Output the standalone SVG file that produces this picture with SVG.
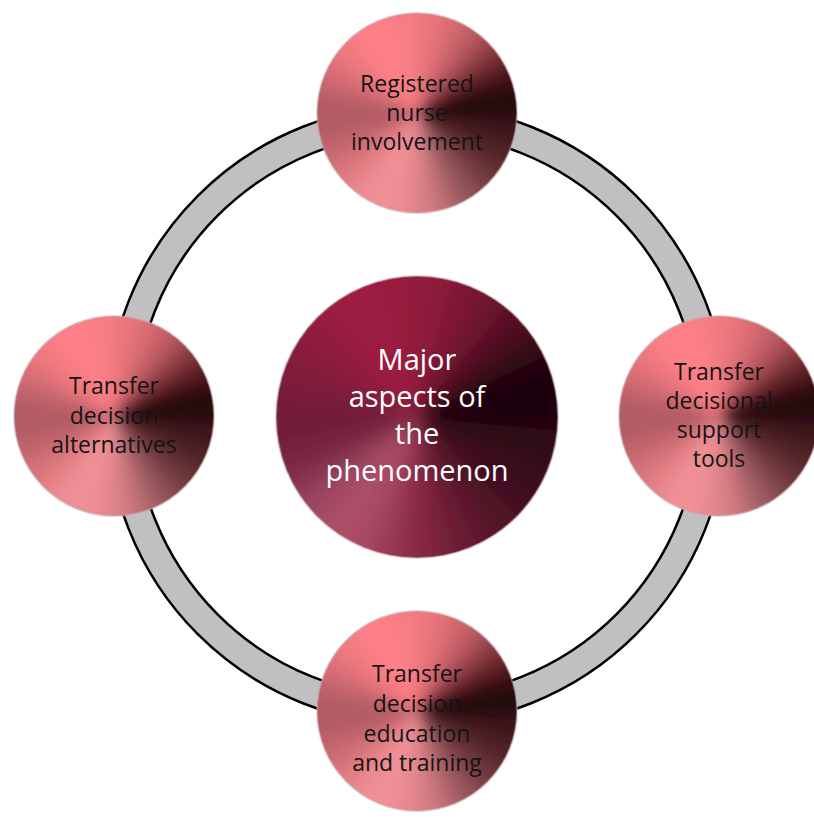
<svg xmlns="http://www.w3.org/2000/svg" xmlns:xlink="http://www.w3.org/1999/xlink" width="814" height="818" viewBox="0 0 814 818">
  <style>
    .wedges path { fill: currentColor; stroke: currentColor; stroke-width: 1.5; stroke-linejoin: round; }
    .ring-band { fill: none; stroke: #c0c0c0; stroke-width: 28; }
    .ring-edge { fill: none; stroke: #000; stroke-width: 2.5; }
    .rim { fill: none; stroke: #c8aeb1; stroke-opacity: 0.5; stroke-width: 2; }
    .lbl { font-family: "Open Sans", "Noto Sans", sans-serif; font-size: 23px; fill: #141414; text-anchor: middle; }
    .main { font-family: "Open Sans", "Noto Sans", sans-serif; font-size: 29px; fill: #ffffff; text-anchor: middle; }
  </style>
  <defs>
    <clipPath id="clip-sat"><circle r="100"/></clipPath>
    <clipPath id="clip-hub"><circle r="141"/></clipPath>
    <filter id="soft" filterUnits="userSpaceOnUse" x="-200" y="-200" width="400" height="400">
      <feGaussianBlur stdDeviation="7"/>
    </filter>
    <!-- angular "metallic" shading for the pink satellites -->
    <g id="sat-wedges" class="wedges">
      <path color="#3a1418" d="M0 0L120 0L115.9 31.1Z"/>
      <path color="#4a2024" d="M0 0L115.9 31.1L103.9 60Z"/>
      <path color="#643034" d="M0 0L103.9 60L84.9 84.9Z"/>
      <path color="#844a50" d="M0 0L84.9 84.9L60 103.9Z"/>
      <path color="#aa6268" d="M0 0L60 103.9L31.1 115.9Z"/>
      <path color="#d27c82" d="M0 0L31.1 115.9L0 120Z"/>
      <path color="#e88a90" d="M0 0L0 120L-31.1 115.9Z"/>
      <path color="#f29298" d="M0 0L-31.1 115.9L-60 103.9Z"/>
      <path color="#ea888e" d="M0 0L-60 103.9L-84.9 84.9Z"/>
      <path color="#da767c" d="M0 0L-84.9 84.9L-103.9 60Z"/>
      <path color="#c4666e" d="M0 0L-103.9 60L-115.9 31.1Z"/>
      <path color="#b05a62" d="M0 0L-115.9 31.1L-120 0Z"/>
      <path color="#b45c64" d="M0 0L-120 0L-115.9 -31.1Z"/>
      <path color="#d06a72" d="M0 0L-115.9 -31.1L-103.9 -60Z"/>
      <path color="#ec767e" d="M0 0L-103.9 -60L-84.9 -84.9Z"/>
      <path color="#fc7e86" d="M0 0L-84.9 -84.9L-60 -103.9Z"/>
      <path color="#ff8088" d="M0 0L-60 -103.9L-31.1 -115.9Z"/>
      <path color="#f87c84" d="M0 0L-31.1 -115.9L0 -120Z"/>
      <path color="#ec767e" d="M0 0L0 -120L31.1 -115.9Z"/>
      <path color="#d86a72" d="M0 0L31.1 -115.9L60 -103.9Z"/>
      <path color="#b85860" d="M0 0L60 -103.9L84.9 -84.9Z"/>
      <path color="#84383e" d="M0 0L84.9 -84.9L103.9 -60Z"/>
      <path color="#4a1418" d="M0 0L103.9 -60L115.9 -31.1Z"/>
      <path color="#1c0608" d="M0 0L115.9 -31.1L120 0Z"/>
    </g>
    <!-- angular shading for the crimson hub -->
    <g id="hub-wedges" class="wedges">
      <path color="#2c0812" d="M0 0L120 0L115.9 31.1Z"/>
      <path color="#340a1a" d="M0 0L115.9 31.1L103.9 60Z"/>
      <path color="#400e20" d="M0 0L103.9 60L84.9 84.9Z"/>
      <path color="#501426" d="M0 0L84.9 84.9L60 103.9Z"/>
      <path color="#661a30" d="M0 0L60 103.9L31.1 115.9Z"/>
      <path color="#7c223c" d="M0 0L31.1 115.9L0 120Z"/>
      <path color="#923050" d="M0 0L0 120L-31.1 115.9Z"/>
      <path color="#a84862" d="M0 0L-31.1 115.9L-60 103.9Z"/>
      <path color="#ae5068" d="M0 0L-60 103.9L-84.9 84.9Z"/>
      <path color="#9a4460" d="M0 0L-84.9 84.9L-103.9 60Z"/>
      <path color="#7c2a44" d="M0 0L-103.9 60L-115.9 31.1Z"/>
      <path color="#701e38" d="M0 0L-115.9 31.1L-120 0Z"/>
      <path color="#741e3a" d="M0 0L-120 0L-115.9 -31.1Z"/>
      <path color="#821c3a" d="M0 0L-115.9 -31.1L-103.9 -60Z"/>
      <path color="#8e1c3c" d="M0 0L-103.9 -60L-84.9 -84.9Z"/>
      <path color="#9a1e40" d="M0 0L-84.9 -84.9L-60 -103.9Z"/>
      <path color="#9e1e42" d="M0 0L-60 -103.9L-31.1 -115.9Z"/>
      <path color="#961c3e" d="M0 0L-31.1 -115.9L0 -120Z"/>
      <path color="#8c1a3a" d="M0 0L0 -120L31.1 -115.9Z"/>
      <path color="#7e1834" d="M0 0L31.1 -115.9L60 -103.9Z"/>
      <path color="#66122a" d="M0 0L60 -103.9L84.9 -84.9Z"/>
      <path color="#460a1e" d="M0 0L84.9 -84.9L103.9 -60Z"/>
      <path color="#22060e" d="M0 0L103.9 -60L115.9 -31.1Z"/>
      <path color="#160308" d="M0 0L115.9 -31.1L120 0Z"/>
    </g>
    <!-- blurred, step-smoothed versions used by the nodes -->
    <g id="sat-shade" filter="url(#soft)">
      <use href="#sat-wedges"/>
      <use href="#sat-wedges" transform="rotate(5)" opacity="0.5"/>
      <use href="#sat-wedges" transform="rotate(10)" opacity="0.333"/>
    </g>
    <g id="hub-shade" filter="url(#soft)">
      <use href="#hub-wedges"/>
      <use href="#hub-wedges" transform="rotate(5)" opacity="0.5"/>
      <use href="#hub-wedges" transform="rotate(10)" opacity="0.333"/>
    </g>
  </defs>

  <rect width="814" height="818" fill="#ffffff"/>

  <!-- ring linking the four satellites -->
  <g id="connectors">
    <circle class="ring-band" cx="417" cy="415" r="296"/>
    <circle class="ring-edge" cx="417" cy="415" r="310"/>
    <circle class="ring-edge" cx="417" cy="415" r="282"/>
  </g>

  <g id="node-hub" transform="translate(417,417)">
    <g clip-path="url(#clip-hub)">
      <use href="#hub-shade" transform="rotate(-5) scale(1.42)"/>
    </g>
    <circle class="rim" r="141"/>
    <text class="main" y="-47">Major</text>
    <text class="main" y="-10">aspects of</text>
    <text class="main" y="27">the</text>
    <text class="main" y="64">phenomenon</text>
  </g>

  <g id="node-top" transform="translate(417,113)">
    <g clip-path="url(#clip-sat)"><use href="#sat-shade" transform="rotate(-5)"/></g>
    <circle class="rim" r="100"/>
    <text class="lbl" y="-21">Registered</text>
    <text class="lbl" y="8">nurse</text>
    <text class="lbl" y="37">involvement</text>
  </g>

  <g id="node-left" transform="translate(114,416)">
    <g clip-path="url(#clip-sat)"><use href="#sat-shade" transform="rotate(-5)"/></g>
    <circle class="rim" r="100"/>
    <text class="lbl" y="-22">Transfer</text>
    <text class="lbl" y="8">decision</text>
    <text class="lbl" y="37">alternatives</text>
  </g>

  <g id="node-right" transform="translate(719,416)">
    <g clip-path="url(#clip-sat)"><use href="#sat-shade" transform="rotate(-5)"/></g>
    <circle class="rim" r="100"/>
    <text class="lbl" y="-36">Transfer</text>
    <text class="lbl" y="-7">decisional</text>
    <text class="lbl" y="22">support</text>
    <text class="lbl" y="51">tools</text>
  </g>

  <g id="node-bottom" transform="translate(417,711)">
    <g clip-path="url(#clip-sat)"><use href="#sat-shade" transform="rotate(-5)"/></g>
    <circle class="rim" r="100"/>
    <text class="lbl" y="-29">Transfer</text>
    <text class="lbl" y="1">decision</text>
    <text class="lbl" y="31">education</text>
    <text class="lbl" y="60">and training</text>
  </g>
</svg>
